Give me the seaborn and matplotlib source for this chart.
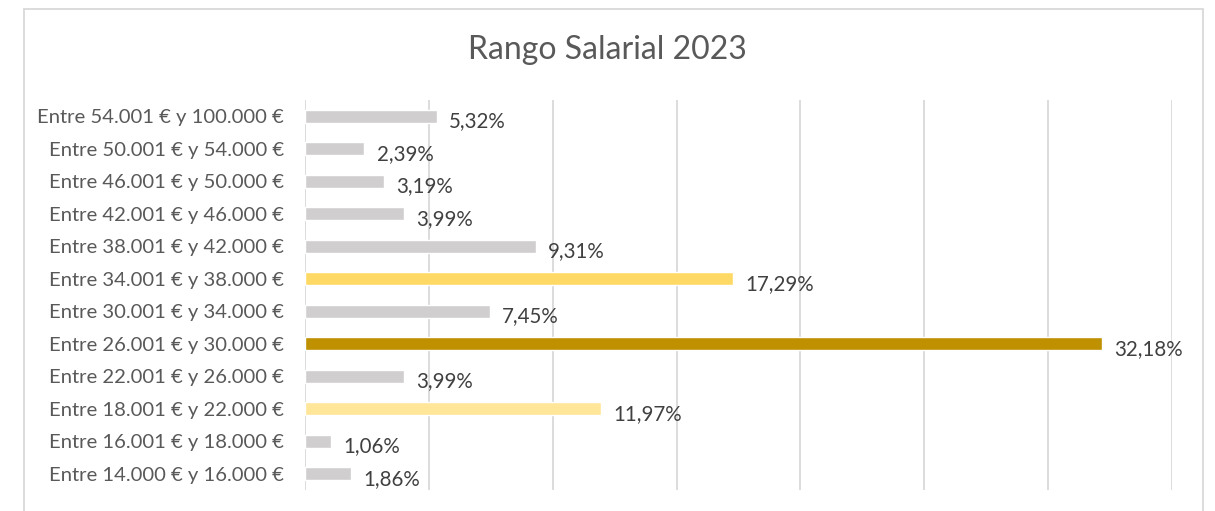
import matplotlib
matplotlib.use("Agg")
import matplotlib.pyplot as plt
from matplotlib.patches import Rectangle
import pandas as pd
import seaborn as sns

rangos = [
    "Entre 54.001 € y 100.000 €",
    "Entre 50.001 € y 54.000 €",
    "Entre 46.001 € y 50.000 €",
    "Entre 42.001 € y 46.000 €",
    "Entre 38.001 € y 42.000 €",
    "Entre 34.001 € y 38.000 €",
    "Entre 30.001 € y 34.000 €",
    "Entre 26.001 € y 30.000 €",
    "Entre 22.001 € y 26.000 €",
    "Entre 18.001 € y 22.000 €",
    "Entre 16.001 € y 18.000 €",
    "Entre 14.000 € y 16.000 €",
]
porcentajes = [5.32, 2.39, 3.19, 3.99, 9.31, 17.29, 7.45, 32.18, 3.99, 11.97, 1.06, 1.86]
colores = ["#D0CECE", "#D0CECE", "#D0CECE", "#D0CECE", "#D0CECE", "#FFD966",
           "#D0CECE", "#BF9000", "#D0CECE", "#FFE699", "#D0CECE", "#D0CECE"]

df = pd.DataFrame({"rango": rangos, "pct": porcentajes})

sns.set_style("white")
plt.rcParams["font.family"] = ["Lato", "DejaVu Sans"]

fig = plt.figure(figsize=(12.15, 5.11), dpi=100)
ax = fig.add_axes([0.251, 0.041, 0.9646 - 0.251, 0.763])

sns.barplot(data=df, x="pct", y="rango", hue="rango", palette=dict(zip(rangos, colores)),
            order=rangos, legend=False, width=0.4, saturation=1, ax=ax)

ax.set_xlim(0, 35)
ax.set_xticks(range(0, 36, 5))
ax.xaxis.grid(True, color="#D9D9D9", linewidth=1.3)
ax.set_axisbelow(True)
ax.tick_params(axis="x", length=0, labelbottom=False)
ax.tick_params(axis="y", length=0, labelsize=14.6, labelcolor="#595959", pad=15)
for s in ax.spines.values():
    s.set_visible(False)
ax.set_xlabel("")
ax.set_ylabel("")

for i, v in enumerate(porcentajes):
    ax.text(v + 0.5, i + 0.15, f"{v:.2f}%".replace(".", ","), va="center", ha="left",
            fontsize=14.8, color="#404040")

fig.text(0.5, 0.903, "Rango Salarial 2023", ha="center", va="center", fontsize=23, color="#595959")

fig.patches.append(Rectangle((24 / 1215, -0.05), (1203 - 24) / 1215, 1 - 9 / 511 + 0.05,
                             transform=fig.transFigure, fill=False, edgecolor="#D9D9D9", linewidth=1.3))

fig.savefig("out.png", dpi=100)
